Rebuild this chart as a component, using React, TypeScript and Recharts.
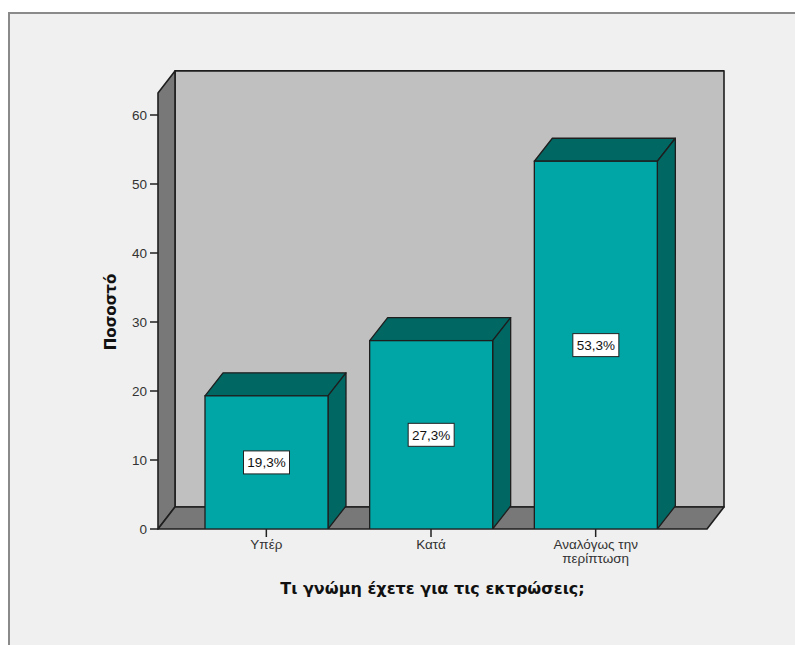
import React from "react";
import { BarChart, Bar, XAxis, YAxis, LabelList, Customized } from "recharts";

// Opinion categories and the share of respondents (%) for each
const categories = ["Υπέρ", "Κατά", "Αναλόγως την\nπερίπτωση"];
const percentages = [19.3, 27.3, 53.3];
const yTicks = [0, 10, 20, 30, 40, 50, 60];

const xTitle = "Τι γνώμη έχετε για τις εκτρώσεις;";
const yTitle = "Ποσοστό";

const data = categories.map((name, i) => ({ name, value: percentages[i] }));

// Layout of the plotting box
const W = 795;
const H = 645;
const MARGIN = { top: 115, right: 88, bottom: 86, left: 98 };
const Y_AXIS_W = 60;
const X_AXIS_H = 30;
const PLOT_LEFT = MARGIN.left + Y_AXIS_W;
const PLOT_RIGHT = W - MARGIN.right;
const PLOT_TOP = MARGIN.top;
const PLOT_BOTTOM = H - MARGIN.bottom - X_AXIS_H;
const Y_MAX = 60;
const WALL_TOP_VALUE = 63.2;
const WALL_DX = 17;
const WALL_DY = 22;
const BAR_DX = 18;
const BAR_DY = 23;

const yPix = (v: number) =>
  PLOT_BOTTOM - (v / Y_MAX) * (PLOT_BOTTOM - PLOT_TOP);

const FONT = "'Liberation Sans', Arial, sans-serif";
const TITLE_FONT = "'DejaVu Sans', Verdana, sans-serif";
const EDGE = "#1e1e1e";

const pts = (arr: number[][]) => arr.map((p) => p.join(",")).join(" ");

// Side wall, back wall and floor of the 3D box
const Walls = () => {
  const top = yPix(WALL_TOP_VALUE);
  const b = PLOT_BOTTOM;
  const l = PLOT_LEFT;
  const r = PLOT_RIGHT;
  return (
    <g>
      <polygon
        points={pts([
          [l + WALL_DX, top - WALL_DY],
          [r + WALL_DX, top - WALL_DY],
          [r + WALL_DX, b - WALL_DY],
          [l + WALL_DX, b - WALL_DY],
        ])}
        fill="#c0c0c0"
        stroke={EDGE}
        strokeWidth={1.6}
        strokeLinejoin="round"
      />
      <polygon
        points={pts([
          [l, b],
          [l, top],
          [l + WALL_DX, top - WALL_DY],
          [l + WALL_DX, b - WALL_DY],
        ])}
        fill="#787878"
        stroke={EDGE}
        strokeWidth={1.6}
        strokeLinejoin="round"
      />
      <polygon
        points={pts([
          [l, b],
          [r, b],
          [r + WALL_DX, b - WALL_DY],
          [l + WALL_DX, b - WALL_DY],
        ])}
        fill="#787878"
        stroke={EDGE}
        strokeWidth={1.6}
        strokeLinejoin="round"
      />
    </g>
  );
};

// Titles of both axes
const Titles = () => (
  <g>
    <text
      x={(PLOT_LEFT + PLOT_RIGHT) / 2}
      y={594}
      textAnchor="middle"
      fontFamily={TITLE_FONT}
      fontWeight="bold"
      fontSize={16}
      fill="#111"
    >
      {xTitle}
    </text>
    <text
      x={0}
      y={0}
      transform={`translate(116, 312) rotate(-90)`}
      textAnchor="middle"
      fontFamily={TITLE_FONT}
      fontWeight="bold"
      fontSize={15}
      fill="#111"
    >
      {yTitle}
    </text>
  </g>
);

// Box-shaped bar: front face, top face and right side face
const Bar3D = (props: any) => {
  const { x, y, width, height } = props;
  const front = "#00a6a6";
  const dark = "#006763";
  return (
    <g>
      <polygon
        points={pts([
          [x, y],
          [x + BAR_DX, y - BAR_DY],
          [x + width + BAR_DX, y - BAR_DY],
          [x + width, y],
        ])}
        fill={dark}
        stroke={EDGE}
        strokeWidth={1.3}
        strokeLinejoin="round"
      />
      <polygon
        points={pts([
          [x + width, y],
          [x + width + BAR_DX, y - BAR_DY],
          [x + width + BAR_DX, y + height - BAR_DY],
          [x + width, y + height],
        ])}
        fill={dark}
        stroke={EDGE}
        strokeWidth={1.3}
        strokeLinejoin="round"
      />
      <rect
        x={x}
        y={y}
        width={width}
        height={height}
        fill={front}
        stroke={EDGE}
        strokeWidth={1.3}
      />
    </g>
  );
};

// Value box in the middle of the bar front
const ValueLabel = (props: any) => {
  const { x, y, width, height, value } = props;
  const cx = x + width / 2;
  const cy = y + height / 2;
  const text = `${Number(value).toFixed(1).replace(".", ",")}%`;
  const bw = 46;
  const bh = 23;
  return (
    <g>
      <rect
        x={cx - bw / 2}
        y={cy - bh / 2}
        width={bw}
        height={bh}
        fill="#ffffff"
        stroke="#222"
        strokeWidth={1}
      />
      <text
        x={cx}
        y={cy + 5}
        textAnchor="middle"
        fontFamily={FONT}
        fontSize={13.5}
        fill="#111"
      >
        {text}
      </text>
    </g>
  );
};

const CategoryTick = (props: any) => {
  const { x, y, payload } = props;
  const lines = String(payload.value).split("\n");
  return (
    <text
      x={x}
      y={y}
      textAnchor="middle"
      fontFamily={FONT}
      fontSize={13.5}
      fill="#333"
    >
      {lines.map((ln, i) => (
        <tspan key={i} x={x} dy={i === 0 ? 10 : 13.5}>
          {ln}
        </tspan>
      ))}
    </text>
  );
};

export default function App() {
  return (
    <div
      style={{
        position: "absolute",
        left: 0,
        top: 0,
        width: W,
        height: H,
        background: "#ffffff",
        overflow: "hidden",
      }}
    >
      <div
        style={{
          position: "absolute",
          left: 8,
          top: 12,
          width: W + 20,
          height: H + 20,
          background: "#f0f0f0",
          borderLeft: "2px solid #8a8a8a",
          borderTop: "2px solid #8a8a8a",
        }}
      />
      <div style={{ position: "absolute", left: 0, top: 0 }}>
        <BarChart width={W} height={H} data={data} margin={MARGIN}>
          <Customized component={Walls} />
          <XAxis
            dataKey="name"
            height={X_AXIS_H}
            padding={{ left: 26, right: 29 }}
            axisLine={false}
            tickLine={{ stroke: "#222", strokeWidth: 1.5 }}
            tickSize={8}
            tick={<CategoryTick />}
            interval={0}
          />
          <YAxis
            width={Y_AXIS_W}
            domain={[0, Y_MAX]}
            ticks={yTicks}
            axisLine={false}
            tickLine={{ stroke: "#222", strokeWidth: 1.5 }}
            tickSize={8}
            tickMargin={3}
            tick={{ fontFamily: FONT, fontSize: 13.5, fill: "#333" }}
            allowDataOverflow
          />
          <Bar
            dataKey="value"
            barSize={123}
            shape={<Bar3D />}
            isAnimationActive={false}
          >
            <LabelList dataKey="value" content={<ValueLabel />} />
          </Bar>
          <Customized component={Titles} />
        </BarChart>
      </div>
    </div>
  );
}
